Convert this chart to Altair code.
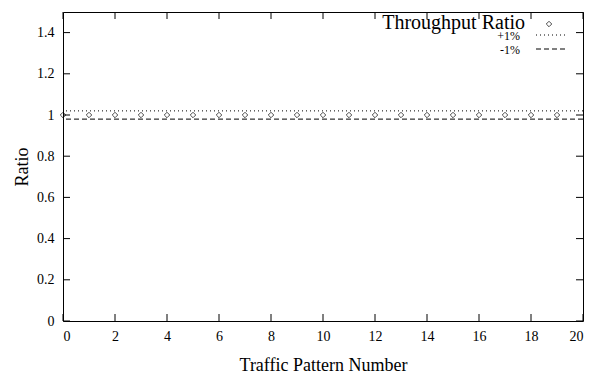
import altair as alt
import pandas as pd

# ---- data ----
pattern = list(range(20))
ratio = [1.0] * 20
upper_level = [1.02]
lower_level = [0.98]
x_ticks = list(range(0, 21, 2))
y_ticks = [0, 0.2, 0.4, 0.6, 0.8, 1.0, 1.2, 1.4]
legend_labels = ["Throughput Ratio", "+1%", "-1%"]

W, H = 520, 309
FONT = "Liberation Serif"
X_MAX, Y_MAX = 20, 1.5
TK = 7


def kx(px):
    # key placement: pixel offset inside the plot -> x scale units
    return px * X_MAX / W


def ky(py):
    # key placement: pixel offset from the top of the plot -> y scale units
    return Y_MAX - py * Y_MAX / H


df = pd.DataFrame({"pattern": pattern, "ratio": ratio})
up_df = pd.DataFrame({"level": upper_level})
lo_df = pd.DataFrame({"level": lower_level})
xb_df = pd.DataFrame({"t": x_ticks})
xtp_df = pd.DataFrame({"tt": x_ticks})
yl_df = pd.DataFrame({"u": y_ticks})
yr_df = pd.DataFrame({"uu": y_ticks})
one = pd.DataFrame({"a": [0]})

xs = alt.Scale(domain=[0, X_MAX], nice=False, zero=False)
ys = alt.Scale(domain=[0, Y_MAX], nice=False)

x_main = alt.Axis(orient="bottom", values=x_ticks, labelPadding=8, grid=False,
                  domain=False, ticks=True, tickColor="transparent", tickSize=0,
                  labelFontSize=14, labelFont=FONT, title="Traffic Pattern Number",
                  titleFont=FONT, titleFontSize=18, titlePadding=13)
y_main = alt.Axis(orient="left", values=y_ticks, labelPadding=9, grid=False,
                  domain=False, ticks=True, tickColor="transparent", tickSize=0,
                  labelFontSize=14, labelFont=FONT, format="~g", title="Ratio",
                  titleFont=FONT, titleFontSize=18, titlePadding=5)

points = alt.Chart(df).mark_point(shape="diamond", size=30, color="black",
                                  strokeWidth=1, filled=False).encode(
    x=alt.X("pattern:Q", scale=xs, axis=x_main),
    y=alt.Y("ratio:Q", scale=ys, axis=y_main),
)

upper = alt.Chart(up_df).mark_rule(color="black", strokeWidth=1,
                                   strokeDash=[1, 3]).encode(
    y=alt.Y("level:Q", scale=ys, axis=y_main)
)
lower = alt.Chart(lo_df).mark_rule(color="black", strokeWidth=1,
                                   strokeDash=[5, 3]).encode(
    y=alt.Y("level:Q", scale=ys, axis=y_main)
)

# inward ticks on all four sides (positions come from the scales)
tick_style = dict(color="black", strokeWidth=1)
t_bottom = alt.Chart(xb_df).mark_rule(**tick_style).encode(
    x=alt.X("t:Q", scale=xs, axis=x_main), y=alt.value(H), y2=alt.value(H - TK))
t_top = alt.Chart(xtp_df).mark_rule(**tick_style).encode(
    x=alt.X("tt:Q", scale=xs, axis=x_main), y=alt.value(0), y2=alt.value(TK))
t_left = alt.Chart(yl_df).mark_rule(**tick_style).encode(
    y=alt.Y("u:Q", scale=ys, axis=y_main), x=alt.value(0), x2=alt.value(TK))
t_right = alt.Chart(yr_df).mark_rule(**tick_style).encode(
    y=alt.Y("uu:Q", scale=ys, axis=y_main), x=alt.value(W), x2=alt.value(W - TK))

# ---- key (top right, inside the plot), placed through the shared scales ----
leg_title = alt.Chart(one).mark_text(font=FONT, fontSize=20, align="right",
                                     baseline="middle", color="black").encode(
    x=alt.X(datum=kx(462), scale=xs, axis=x_main),
    y=alt.Y(datum=ky(11), scale=ys, axis=y_main),
    text=alt.value(legend_labels[0]))
leg_sym = alt.Chart(one).mark_point(shape="diamond", size=30, color="black",
                                    filled=False, strokeWidth=1).encode(
    x=alt.X(datum=kx(486), scale=xs, axis=x_main),
    y=alt.Y(datum=ky(12), scale=ys, axis=y_main))
leg_up_t = alt.Chart(one).mark_text(font=FONT, fontSize=12, align="right",
                                    baseline="middle", color="black").encode(
    x=alt.X(datum=kx(457), scale=xs, axis=x_main),
    y=alt.Y(datum=ky(24), scale=ys, axis=y_main),
    text=alt.value(legend_labels[1]))
leg_up_l = alt.Chart(one).mark_rule(color="black", strokeWidth=1,
                                    strokeDash=[1, 3]).encode(
    x=alt.X(datum=kx(473), scale=xs, axis=x_main), x2=alt.X2(datum=kx(502)),
    y=alt.Y(datum=ky(23), scale=ys, axis=y_main))
leg_lo_t = alt.Chart(one).mark_text(font=FONT, fontSize=12, align="right",
                                    baseline="middle", color="black").encode(
    x=alt.X(datum=kx(457), scale=xs, axis=x_main),
    y=alt.Y(datum=ky(38), scale=ys, axis=y_main),
    text=alt.value(legend_labels[2]))
leg_lo_l = alt.Chart(one).mark_rule(color="black", strokeWidth=1,
                                    strokeDash=[5, 3]).encode(
    x=alt.X(datum=kx(473), scale=xs, axis=x_main), x2=alt.X2(datum=kx(502)),
    y=alt.Y(datum=ky(37), scale=ys, axis=y_main))

chart = alt.layer(
    points, upper, lower, t_bottom, t_top, t_left, t_right,
    leg_title, leg_sym, leg_up_t, leg_up_l, leg_lo_t, leg_lo_l,
).properties(
    width=W, height=H,
    autosize=alt.AutoSizeParams(type="none"),
    padding={"left": 55, "top": 4, "right": 17, "bottom": 52},
    background="white",
).configure_view(stroke="black", strokeWidth=1
).configure_axis(labelFont=FONT, titleFont=FONT, labelColor="black",
                 titleColor="black", titleFontWeight="normal")

chart.save("out.html", embed_options={"renderer": "svg", "actions": False})
